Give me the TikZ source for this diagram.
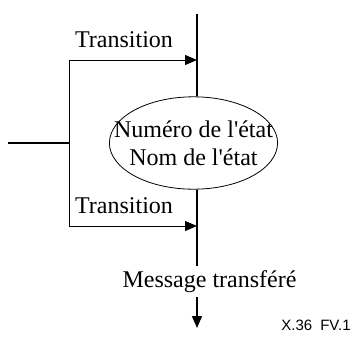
\documentclass[tikz,border=0pt]{standalone}
\usepackage{fontspec}
\setmainfont{Liberation Serif}
\setsansfont{Liberation Sans}
\usetikzlibrary{shapes.geometric,arrows.meta}

\begin{document}
\begin{tikzpicture}[x=0.5pt,y=-0.5pt,
        >={Triangle[length=6pt,width=5pt]},
        main/.style={line width=0.7pt},
        branch/.style={line width=0.4pt},
        txt/.style={font=\fontsize{12}{14}\selectfont,inner sep=2pt}]
        \useasboundingbox (0,0) rectangle (353,343);

        \node[draw,ellipse,txt,inner xsep=-10pt,inner ysep=5.1pt,align=center] at (193.5,143)(etat){Numéro de l\textquotesingle état\\Nom de l\textquotesingle état};
        \node[txt,anchor=base] at (209.5,287)(msg){Message transféré};
        \node[txt] at (124,40)(tr1){Transition};
        \node[txt] at (124,206)(tr2){Transition};
        \node[font=\sffamily\fontsize{7.5}{9}\selectfont,inner sep=0pt] at (316,325)(fig){X.36\hspace{4pt}FV.1};

        \coordinate (top) at (197,14);
        \coordinate (in) at (8,143);
        \coordinate (fork) at (69,143);
        \coordinate (t1) at (197,60);
        \coordinate (t2) at (197,226);
        \coordinate (end) at (197,328);

        \draw[main] (top) -- (etat.north -| top);
        \draw[main] (etat.south -| top) -- (top |- msg.north);
        \draw[main,->] (top |- msg.south) -- (end);
        \draw[main] (in) -- (fork);
        \draw[branch,->] (fork) |- (t1);
        \draw[branch,->] (fork) |- (t2);
    \end{tikzpicture}
\end{document}
